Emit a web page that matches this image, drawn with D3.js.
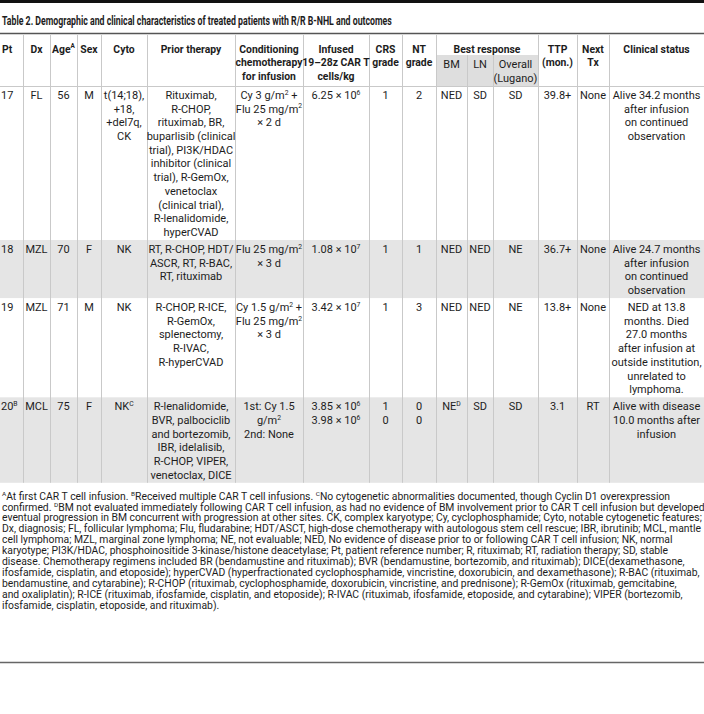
<!DOCTYPE html>
<html><head><meta charset="utf-8">
<script src="https://cdn.jsdelivr.net/npm/d3@7"></script>
<style>html,body{margin:0;padding:0;background:#fff;}svg{display:block;}</style>
</head><body>
<script>
// ---------------- DATA ----------------
const title = "Table 2. Demographic and clinical characteristics of treated patients with R/R B-NHL and outcomes";
const columns = ["Pt","Dx","Age","Sex","Cyto","Prior","Cond","Infused","CRS","NT","BM","LN","Overall","TTP","Next","Status"];
const headerLabels = [["Pt"],["Dx"],["Age^{A}"],["Sex"],["Cyto"],["Prior therapy"],
  ["Conditioning","chemotherapy","for infusion"],["Infused","19–28z CAR T","cells/kg"],
  ["CRS","grade"],["NT","grade"],["BM"],["LN"],["Overall","(Lugano)"],["TTP","(mon.)"],["Next","Tx"],["Clinical status"]];
const groupLabel = "Best response";
const groupColumns = ["BM","LN","Overall"];

const patients = ["17","18","19","20^{B}"];
const diagnoses = ["FL","MZL","MZL","MCL"];
const ages = ["56","70","71","75"];
const sexes = ["M","F","M","F"];
const cytogenetics = [["t(14;18),","+18,","+del7q,","CK"],["NK"],["NK"],["NK^{C}"]];
const priorTherapy = [
  ["Rituximab,","R-CHOP,","rituximab, BR,","buparlisib (clinical","trial), PI3K/HDAC","inhibitor (clinical","trial), R-GemOx,","venetoclax","(clinical trial),","R-lenalidomide,","hyperCVAD"],
  ["RT, R-CHOP, HDT/","ASCR, RT, R-BAC,","RT, rituximab"],
  ["R-CHOP, R-ICE,","R-GemOx,","splenectomy,","R-IVAC,","R-hyperCVAD"],
  ["R-lenalidomide,","BVR, palbociclib","and bortezomib,","IBR, idelalisib,","R-CHOP, VIPER,","venetoclax, DICE"]];
const conditioning = [["Cy 3 g/m^{2} +","Flu 25 mg/m^{2}","× 2 d"],["Flu 25 mg/m^{2}","× 3 d"],
  ["Cy 1.5 g/m^{2} +","Flu 25 mg/m^{2}","× 3 d"],["1st: Cy 1.5","g/m^{2}","2nd: None"]];
const infusedCells = [["6.25 × 10^{6}"],["1.08 × 10^{7}"],["3.42 × 10^{7}"],["3.85 × 10^{6}","3.98 × 10^{6}"]];
const crsGrade = [["1"],["1"],["1"],["1","0"]];
const ntGrade = [["2"],["1"],["3"],["0","0"]];
const bmResponse = ["NED","NED","NED","NE^{D}"];
const lnResponse = ["SD","NED","NED","SD"];
const overallResponse = ["SD","NE","NE","SD"];
const ttpMonths = ["39.8+","36.7+","13.8+","3.1"];
const nextTx = ["None","None","None","RT"];
const clinicalStatus = [["Alive 34.2 months","after infusion","on continued","observation"],
  ["Alive 24.7 months","after infusion","on continued","observation"],
  ["NED at 13.8","months. Died","27.0 months","after infusion at","outside institution,","unrelated to","lymphoma."],
  ["Alive with disease","10.0 months after","infusion"]];
const footnotes = [
  "^{A}At first CAR T cell infusion. ^{B}Received multiple CAR T cell infusions. ^{C}No cytogenetic abnormalities documented, though Cyclin D1 overexpression",
  "confirmed. ^{D}BM not evaluated immediately following CAR T cell infusion, as had no evidence of BM involvement prior to CAR T cell infusion but developed",
  "eventual progression in BM concurrent with progression at other sites. CK, complex karyotype; Cy, cyclophosphamide; Cyto, notable cytogenetic features;",
  "Dx, diagnosis; FL, follicular lymphoma; Flu, fludarabine; HDT/ASCT, high-dose chemotherapy with autologous stem cell rescue; IBR, ibrutinib; MCL, mantle",
  "cell lymphoma; MZL, marginal zone lymphoma; NE, not evaluable; NED, No evidence of disease prior to or following CAR T cell infusion; NK, normal",
  "karyotype; PI3K/HDAC, phosphoinositide 3-kinase/histone deacetylase; Pt, patient reference number; R, rituximab; RT, radiation therapy; SD, stable",
  "disease. Chemotherapy regimens included BR (bendamustine and rituximab); BVR (bendamustine, bortezomib, and rituximab); DICE(dexamethasone,",
  "ifosfamide, cisplatin, and etoposide); hyperCVAD (hyperfractionated cyclophosphamide, vincristine, doxorubicin, and dexamethasone); R-BAC (rituximab,",
  "bendamustine, and cytarabine); R-CHOP (rituximab, cyclophosphamide, doxorubicin, vincristine, and prednisone); R-GemOx (rituximab, gemcitabine,",
  "and oxaliplatin); R-ICE (rituximab, ifosfamide, cisplatin, and etoposide); R-IVAC (rituximab, ifosfamide, etoposide, and cytarabine); VIPER (bortezomib,",
  "ifosfamide, cisplatin, etoposide, and rituximab)."];

// ---------------- LAYOUT ----------------
const W = 704, H = 714;
const FONT = "Roboto, 'Open Sans', 'Liberation Sans', sans-serif";
const TXT = "#1d1d1d";
const colEdges = [0,23,50,77,101,147,235,303,369,402,436,467,493,538,577,609,704];
const xLeft = d3.scaleOrdinal().domain(columns).range(colEdges.slice(0,-1));
const xRight = d3.scaleOrdinal().domain(columns).range(colEdges.slice(1));
const xMid = c => (xLeft(c) + xRight(c)) / 2;

const svg = d3.select("body").append("svg").attr("width", W).attr("height", H)
  .attr("viewBox", `0 0 ${W} ${H}`);

function toLines(v){ return Array.isArray(v) ? v : [v]; }
const rows = patients.map((p,i) => ({
  Pt:[p], Dx:[diagnoses[i]], Age:[ages[i]], Sex:[sexes[i]], Cyto:cytogenetics[i], Prior:priorTherapy[i],
  Cond:conditioning[i], Infused:infusedCells[i], CRS:crsGrade[i], NT:ntGrade[i],
  BM:[bmResponse[i]], LN:[lnResponse[i]], Overall:[overallResponse[i]], TTP:[ttpMonths[i]],
  Next:[nextTx[i]], Status:clinicalStatus[i]
}));

const LH = 13.7, headTop = 35, headBot = 86;
const rowHeights = rows.map(r => 17 + (d3.max(columns, c => r[c].length) - 1) * LH);
const rowTops = [headBot];
rowHeights.forEach((h,i) => rowTops.push(rowTops[i] + h));
const yRow = d3.scaleOrdinal().domain(d3.range(rows.length)).range(rowTops);

// rich text writer: "^{x}" -> superscript
function writeRich(textSel, str, size){
  const parts = str.split(/(\^\{[^}]*\})/).filter(s => s.length);
  let sup = false;
  parts.forEach(p => {
    const m = p.match(/^\^\{([^}]*)\}$/);
    if (m) {
      textSel.append("tspan").attr("dy", -size*0.38).attr("font-size", size*0.62).text(m[1]);
      sup = true;
    } else {
      const t = textSel.append("tspan").text(p);
      if (sup) { t.attr("dy", size*0.38); sup = false; }
    }
  });
}
function addText(g, str, x, yc, size, weight, anchor, sx){
  const t = g.append("text")
    .attr("transform", `translate(${x},${yc + size*0.36}) scale(${sx},1)`)
    .attr("font-family", FONT).attr("font-size", size).attr("font-weight", weight)
    .attr("fill", TXT).attr("text-anchor", anchor);
  writeRich(t, str, size);
  return t;
}
function measure(str, size, weight){
  const t = svg.append("text").attr("font-family", FONT).attr("font-size", size).attr("font-weight", weight);
  writeRich(t, str, size);
  const w = t.node().getComputedTextLength();
  t.remove();
  return w;
}

const BODY = 11, HEAD = 11, FOOT = 10, TITLE = 12.6;
const sBody = ((93 / measure("outside institution,", BODY, 400)) + (86 / measure("buparlisib (clinical", BODY, 400))) / 2;
const sHead = 67 / measure("chemotherapy", HEAD, 700);
const sFoot = 700 / measure(footnotes[3], FOOT, 400);
const sTitle = 390 / measure(title, TITLE, 700);

// ---------------- DRAW ----------------
// top bar & title
svg.append("rect").attr("x",0).attr("y",0).attr("width",W).attr("height",3).attr("fill","#111");
addText(svg, title, 2, 20, TITLE, 700, "start", sTitle);
svg.append("line").attr("x1",0).attr("x2",W).attr("y1",33.5).attr("y2",33.5).attr("stroke","#555").attr("stroke-width",1.5);

// row shading
const bg = svg.append("g");
rows.forEach((r,i) => {
  if (i % 2 === 1) bg.append("rect").attr("x",0).attr("width",W).attr("y",yRow(i)).attr("height",rowHeights[i]).attr("fill","#e5e5e5");
});
// subheader shading
const g0 = xLeft(groupColumns[0]), g1 = xRight(groupColumns[groupColumns.length-1]);
bg.append("rect").attr("x",g0).attr("y",55).attr("width",g1-g0).attr("height",headBot-55).attr("fill","#dedede");

// grid lines
const grid = svg.append("g").attr("stroke","#c9c9c9").attr("stroke-width",1);
const tableBottom = rowTops[rowTops.length-1];
columns.slice(1).forEach(c => {
  const inner = groupColumns.includes(c) && c !== groupColumns[0];
  const x = Math.round(xLeft(c)) + 0.5;
  grid.append("line").attr("x1",x).attr("x2",x).attr("y1", inner ? 55 : headTop).attr("y2", tableBottom);
});
grid.append("line").attr("x1",0).attr("x2",W).attr("y1",headBot+0.5).attr("y2",headBot+0.5);

// header
const head = svg.append("g");
const headY0 = 48.7, headLH = 13.8;
columns.forEach((c,ci) => {
  const lines = headerLabels[ci];
  const isSub = groupColumns.includes(c);
  const y0 = isSub ? 64 : headY0;
  lines.forEach((ln,li) => {
    if (c === "Pt") addText(head, ln, 2, y0 + li*headLH, HEAD, 700, "start", sHead);
    else addText(head, ln, xMid(c), y0 + li*headLH, HEAD, isSub ? 400 : 700, "middle", isSub ? sBody : sHead);
  });
});
addText(head, groupLabel, (g0+g1)/2, headY0, HEAD, 700, "middle", sHead);

// body
const body = svg.append("g");
rows.forEach((r,i) => {
  columns.forEach(c => {
    r[c].forEach((ln,li) => {
      const y = yRow(i) + 9 + li*LH;
      if (c === "Pt") addText(body, ln, 1, y, BODY, 400, "start", sBody);
      else addText(body, ln, xMid(c), y, BODY, 400, "middle", sBody);
    });
  });
});

// footnotes
const foot = svg.append("g");
footnotes.forEach((ln,i) => addText(foot, ln, 2, 496 + i*10.9, FOOT, 400, "start", sFoot));
svg.append("line").attr("x1",0).attr("x2",W).attr("y1",662.5).attr("y2",662.5).attr("stroke","#666").attr("stroke-width",1.5);
</script>
</body></html>
